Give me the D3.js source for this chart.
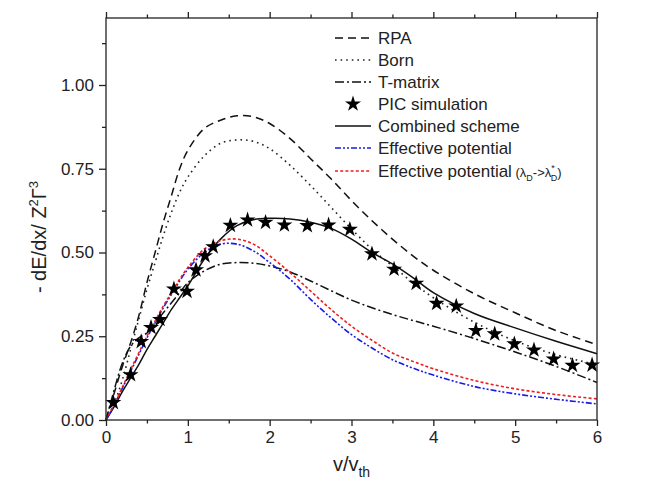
<!DOCTYPE html>
<html>
<head>
<meta charset="utf-8">
<script src="https://cdn.jsdelivr.net/npm/d3@7/dist/d3.min.js"></script>
<style>
  html, body { margin: 0; padding: 0; background: #fff; }
  svg { display: block; font-family: "Liberation Sans", Arial, sans-serif; }
</style>
</head>
<body>
<svg id="chart" width="653" height="492"></svg>
<script>
// ---------------- data ----------------
const curveV   = [0, 0.1, 0.2, 0.3, 0.4, 0.5, 0.6, 0.7, 0.8, 0.9, 1.0, 1.2, 1.4, 1.6, 1.8, 2.0, 2.25, 2.5, 2.75, 3.0, 3.25, 3.5, 3.75, 4.0, 4.5, 5.0, 5.5, 6.0];
const rpa      = [0, 0.08, 0.16, 0.23, 0.31, 0.41, 0.50, 0.59, 0.67, 0.75, 0.805, 0.87, 0.895, 0.908, 0.905, 0.885, 0.84, 0.78, 0.72, 0.655, 0.595, 0.54, 0.49, 0.447, 0.377, 0.32, 0.267, 0.225];
const born     = [0, 0.05, 0.12, 0.21, 0.30, 0.39, 0.47, 0.55, 0.62, 0.68, 0.725, 0.788, 0.826, 0.836, 0.832, 0.81, 0.76, 0.70, 0.635, 0.57, 0.51, 0.46, 0.41, 0.365, 0.292, 0.236, 0.195, 0.165];
const tmatrix  = [0, 0.09, 0.17, 0.22, 0.245, 0.26, 0.29, 0.32, 0.35, 0.38, 0.41, 0.445, 0.465, 0.47, 0.468, 0.46, 0.442, 0.415, 0.386, 0.358, 0.335, 0.315, 0.297, 0.28, 0.243, 0.203, 0.16, 0.112];
const combined = [0, 0.04, 0.085, 0.125, 0.165, 0.21, 0.25, 0.29, 0.33, 0.365, 0.40, 0.48, 0.54, 0.58, 0.598, 0.602, 0.60, 0.59, 0.572, 0.54, 0.50, 0.466, 0.425, 0.38, 0.318, 0.275, 0.235, 0.198];
const effPot   = [0, 0.045, 0.095, 0.145, 0.195, 0.245, 0.29, 0.335, 0.375, 0.415, 0.45, 0.50, 0.525, 0.525, 0.505, 0.47, 0.42, 0.36, 0.305, 0.255, 0.215, 0.18, 0.155, 0.134, 0.10, 0.078, 0.062, 0.048];
const effPotL  = [0, 0.047, 0.098, 0.15, 0.20, 0.25, 0.295, 0.34, 0.38, 0.42, 0.455, 0.51, 0.535, 0.54, 0.525, 0.49, 0.44, 0.385, 0.33, 0.28, 0.238, 0.20, 0.175, 0.153, 0.118, 0.093, 0.076, 0.063];

const picV = [0.09, 0.30, 0.43, 0.55, 0.66, 0.83, 0.99, 1.10, 1.21, 1.31, 1.52, 1.73, 1.95, 2.18, 2.46, 2.72, 2.98, 3.25, 3.52, 3.79, 4.04, 4.28, 4.52, 4.75, 4.99, 5.23, 5.47, 5.70, 5.94];
const picY = [0.052, 0.135, 0.234, 0.276, 0.300, 0.391, 0.384, 0.448, 0.490, 0.517, 0.581, 0.597, 0.590, 0.582, 0.580, 0.582, 0.569, 0.496, 0.450, 0.408, 0.348, 0.340, 0.267, 0.257, 0.227, 0.209, 0.182, 0.163, 0.164];

const xMajor = [0, 1, 2, 3, 4, 5, 6];
const xMinor = [0.5, 1.5, 2.5, 3.5, 4.5, 5.5];
const yMajor = [0, 0.25, 0.5, 0.75, 1.0];
const yMinor = [0.125, 0.375, 0.625, 0.875, 1.125];

const legendLabels = ["RPA", "Born", "T-matrix", "PIC simulation", "Combined scheme", "Effective potential", "Effective potential"];

// ---------------- layout ----------------
const L = 106, R = 597, T = 18, B = 420;
const svg = d3.select("#chart");
const x = d3.scaleLinear().domain([0, 6]).range([L, R]);
const y = d3.scaleLinear().domain([0, 1.2]).range([B, T]);

const styles = [
  { data: rpa,      color: "#111", dash: "8,5",              width: 1.5 },
  { data: born,     color: "#222", dash: "1.6,4",            width: 1.6 },
  { data: tmatrix,  color: "#111", dash: "9,3,2,3",          width: 1.5 },
  null,
  { data: combined, color: "#111", dash: null,               width: 1.5 },
  { data: effPot,   color: "#1a1ae6", dash: "6,2,2,2,2,2",   width: 1.6 },
  { data: effPotL,  color: "#ee1c1c", dash: "3,2.2",         width: 1.6 }
];

const line = d3.line().curve(d3.curveCatmullRom.alpha(0.5)).x(d => x(d[0])).y(d => y(d[1]));

const plot = svg.append("g");
styles.forEach(s => {
  if (!s) return;
  plot.append("path")
    .datum(curveV.map((v, i) => [v, s.data[i]]))
    .attr("d", line)
    .attr("fill", "none")
    .attr("stroke", s.color)
    .attr("stroke-width", s.width)
    .attr("stroke-dasharray", s.dash);
});

const star = d3.symbol().type(d3.symbolStar).size(80);
plot.selectAll("path.star")
  .data(picV.map((v, i) => [v, picY[i]]))
  .join("path")
  .attr("class", "star")
  .attr("d", star)
  .attr("transform", d => `translate(${x(d[0])},${y(d[1])})`)
  .attr("fill", "#000");

// ---------------- frame & axes ----------------
const axisColor = "#222";
svg.append("rect").attr("x", L).attr("y", T).attr("width", R - L).attr("height", B - T)
  .attr("fill", "none").attr("stroke", axisColor).attr("stroke-width", 1.3);

function styleAxis(g) {
  g.select(".domain").remove();
  g.selectAll("line").attr("stroke", axisColor).attr("stroke-width", 1.3);
  g.selectAll("text").attr("fill", "#222").style("font-size", "17px")
    .style("font-family", "'Liberation Sans', Arial, sans-serif");
}

svg.append("g").attr("transform", `translate(0,${B})`)
  .call(d3.axisBottom(x).tickValues(xMajor).tickSize(6).tickPadding(5).tickFormat(d3.format("d")))
  .call(styleAxis);
svg.append("g").attr("transform", `translate(0,${B})`)
  .call(d3.axisBottom(x).tickValues(xMinor).tickSize(3.5).tickFormat(""))
  .call(styleAxis);
svg.append("g").attr("transform", `translate(0,${T})`)
  .call(d3.axisTop(x).tickValues(xMajor).tickSize(6).tickFormat(""))
  .call(styleAxis);
svg.append("g").attr("transform", `translate(0,${T})`)
  .call(d3.axisTop(x).tickValues(xMinor).tickSize(3.5).tickFormat(""))
  .call(styleAxis);
svg.append("g").attr("transform", `translate(${L},0)`)
  .call(d3.axisLeft(y).tickValues(yMajor).tickSize(7).tickPadding(5).tickFormat(d3.format(".2f")))
  .call(styleAxis);
svg.append("g").attr("transform", `translate(${L},0)`)
  .call(d3.axisLeft(y).tickValues(yMinor).tickSize(4).tickFormat(""))
  .call(styleAxis);

// axis titles
const xt = svg.append("text").attr("x", (L + R) / 2).attr("y", 471)
  .attr("text-anchor", "middle").attr("fill", "#222").style("font-size", "20px");
xt.append("tspan").text("v/v");
xt.append("tspan").attr("dy", 6).style("font-size", "14px").text("th");

const yt = svg.append("text")
  .attr("transform", `translate(46,${(T + B) / 2 + 18}) rotate(-90)`)
  .attr("text-anchor", "middle").attr("fill", "#222").style("font-size", "20px");
yt.append("tspan").text("- dE/dx/ Z");
yt.append("tspan").attr("dy", -8).style("font-size", "13px").text("2");
yt.append("tspan").attr("dy", 8).text("Γ");
yt.append("tspan").attr("dy", -8).style("font-size", "13px").text("3");

// ---------------- legend ----------------
const legY = [38, 60, 82, 104, 126, 148, 171];
const lx0 = 335, lx1 = 371, tx = 378;
legendLabels.forEach((lab, i) => {
  const g = svg.append("g");
  const s = styles[i];
  if (s) {
    g.append("line").attr("x1", lx0).attr("x2", lx1).attr("y1", legY[i]).attr("y2", legY[i])
      .attr("stroke", s.color).attr("stroke-width", s.width).attr("stroke-dasharray", s.dash);
  } else {
    g.append("path").attr("d", star).attr("transform", `translate(${(lx0 + lx1) / 2},${legY[i]})`).attr("fill", "#000");
  }
  const t = g.append("text").attr("x", tx).attr("y", legY[i] + 6).attr("fill", "#222").style("font-size", "17px");
  t.append("tspan").text(lab);
  if (i === 6) {
    t.append("tspan").style("font-size", "13px").text(" (λ");
    t.append("tspan").style("font-size", "9px").attr("dy", 4).text("D");
    t.append("tspan").style("font-size", "13px").attr("dy", -4).text("->λ");
    t.append("tspan").style("font-size", "9px").attr("dy", -6).text("*");
    t.append("tspan").style("font-size", "9px").attr("dx", -4).attr("dy", 10).text("D");
    t.append("tspan").style("font-size", "13px").attr("dy", -4).text(")");
  }
});
</script>
</body>
</html>
